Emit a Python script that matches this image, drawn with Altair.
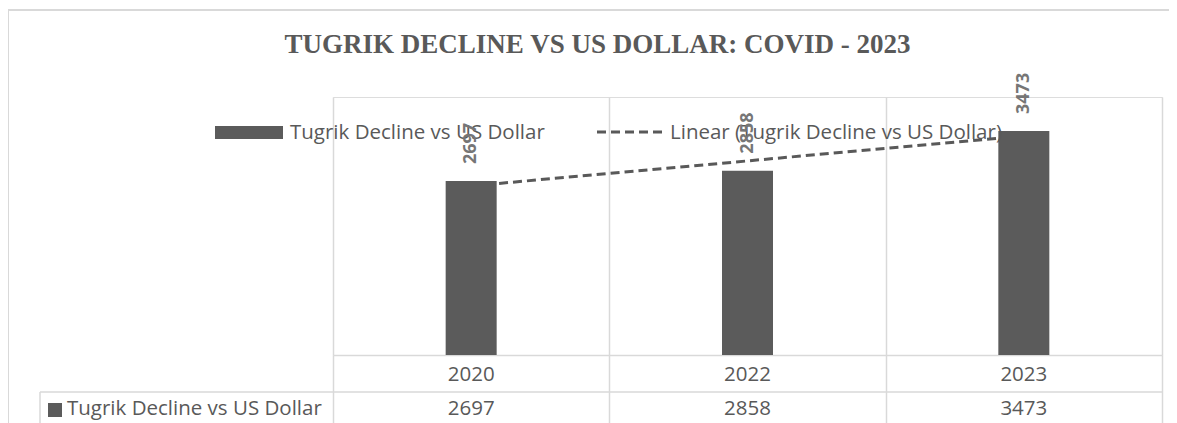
import altair as alt
import pandas as pd
import numpy as np

# ---- data ----
years = ["2020", "2022", "2023"]
values = [2697, 2858, 3473]
series_name = "Tugrik Decline vs US Dollar"
trend_name = "Linear (Tugrik Decline vs US Dollar)"
title_text = "TUGRIK DECLINE VS US DOLLAR: COVID - 2023"

# linear trendline fitted to the series (as Excel's "Linear" trendline)
idx = np.arange(1, len(values) + 1)
slope, intercept = np.polyfit(idx, values, 1)
trend = [float(slope * i + intercept) for i in idx]

df = pd.DataFrame({"year": years, "value": values, "trend": trend})
one = pd.DataFrame({"k": [0]})

W, H = 829, 258
TXT = "#595959"
GRID = "#d9d9d9"
BAR = "#5b5b5b"
FONT = "Open Sans"
FS = 20.5

x_axis = alt.Axis(title=None, labels=False, grid=True, gridColor=GRID, gridWidth=1.5,
                  ticks=True, tickSize=68, tickColor=GRID, tickWidth=1.5, tickBand="extent",
                  domain=True, domainColor=GRID, domainWidth=1.5)
x = alt.X("year:N", sort=years, scale=alt.Scale(paddingInner=0, paddingOuter=0), axis=x_axis)
yscale = alt.Scale(domain=[0, 4000])

base = alt.Chart(df)

trendline = base.mark_line(color=TXT, strokeWidth=3, strokeDash=[9, 5]).encode(
    x=x, y=alt.Y("trend:Q", scale=yscale, axis=None))

bars = base.mark_bar(color=BAR, size=51).encode(
    x=x, y=alt.Y("value:Q", scale=yscale, axis=None))

data_labels = base.mark_text(angle=270, align="left", baseline="middle", font=FONT,
                             fontSize=18, fontWeight="bold", color="#767676", yOffset=-17).encode(
    x=x, y=alt.Y("value:Q", scale=yscale, axis=None), text=alt.Text("value:Q", format="d"))

row1 = base.mark_text(font=FONT, fontSize=FS, color=TXT, baseline="middle").encode(
    x=x, y=alt.value(277.5), text="year:N")
row2 = base.mark_text(font=FONT, fontSize=FS, color=TXT, baseline="middle").encode(
    x=x, y=alt.value(312), text=alt.Text("value:Q", format="d"))

deco = alt.Chart(one)
top_border = deco.mark_rule(color=GRID, strokeWidth=2).encode(
    x=alt.value(-326), x2=alt.value(840), y=alt.value(-87))
left_border = deco.mark_rule(color=GRID, strokeWidth=2).encode(
    x=alt.value(-325), y=alt.value(-87), y2=alt.value(330))
row_line = deco.mark_rule(color=GRID, strokeWidth=1.5).encode(
    x=alt.value(-293), x2=alt.value(W), y=alt.value(295))
row_left = deco.mark_rule(color=GRID, strokeWidth=1.5).encode(
    x=alt.value(-293), y=alt.value(295), y2=alt.value(330))
row_key = deco.mark_rect(color=BAR).encode(
    x=alt.value(-285), x2=alt.value(-271), y=alt.value(306), y2=alt.value(320))
row_head = deco.mark_text(font=FONT, fontSize=FS, color=TXT, align="left", baseline="middle").encode(
    x=alt.value(-266), y=alt.value(312), text=alt.value(series_name))

leg_rect = deco.mark_rect(color=BAR).encode(
    x=alt.value(-118), x2=alt.value(-50), y=alt.value(29), y2=alt.value(42))
leg_text1 = deco.mark_text(font=FONT, fontSize=FS, color=TXT, align="left", baseline="alphabetic").encode(
    x=alt.value(-43), y=alt.value(42), text=alt.value(series_name))
leg_line = deco.mark_rule(color=TXT, strokeWidth=3, strokeDash=[9, 5]).encode(
    x=alt.value(264), x2=alt.value(330), y=alt.value(35))
leg_text2 = deco.mark_text(font=FONT, fontSize=FS, color=TXT, align="left", baseline="alphabetic").encode(
    x=alt.value(337), y=alt.value(42), text=alt.value(trend_name))

title = deco.mark_text(font="Liberation Serif", fontSize=27, fontWeight="bold", color=TXT,
                       align="center", baseline="alphabetic").encode(
    x=alt.value(264.5), y=alt.value(-44), text=alt.value(title_text))

chart = alt.layer(
    top_border, left_border, row_line, row_left,
    trendline, bars, row1, row2, row_key, row_head,
    leg_rect, leg_text1, leg_line, leg_text2, data_labels, title
).properties(
    width=W, height=H,
    autosize=alt.AutoSizeParams(type="none"),
    padding={"left": 325, "top": 89, "right": 7, "bottom": 68},
).configure_view(stroke=None).configure(background="white")

chart.save("out.html", embed_options={"renderer": "svg", "actions": False})
